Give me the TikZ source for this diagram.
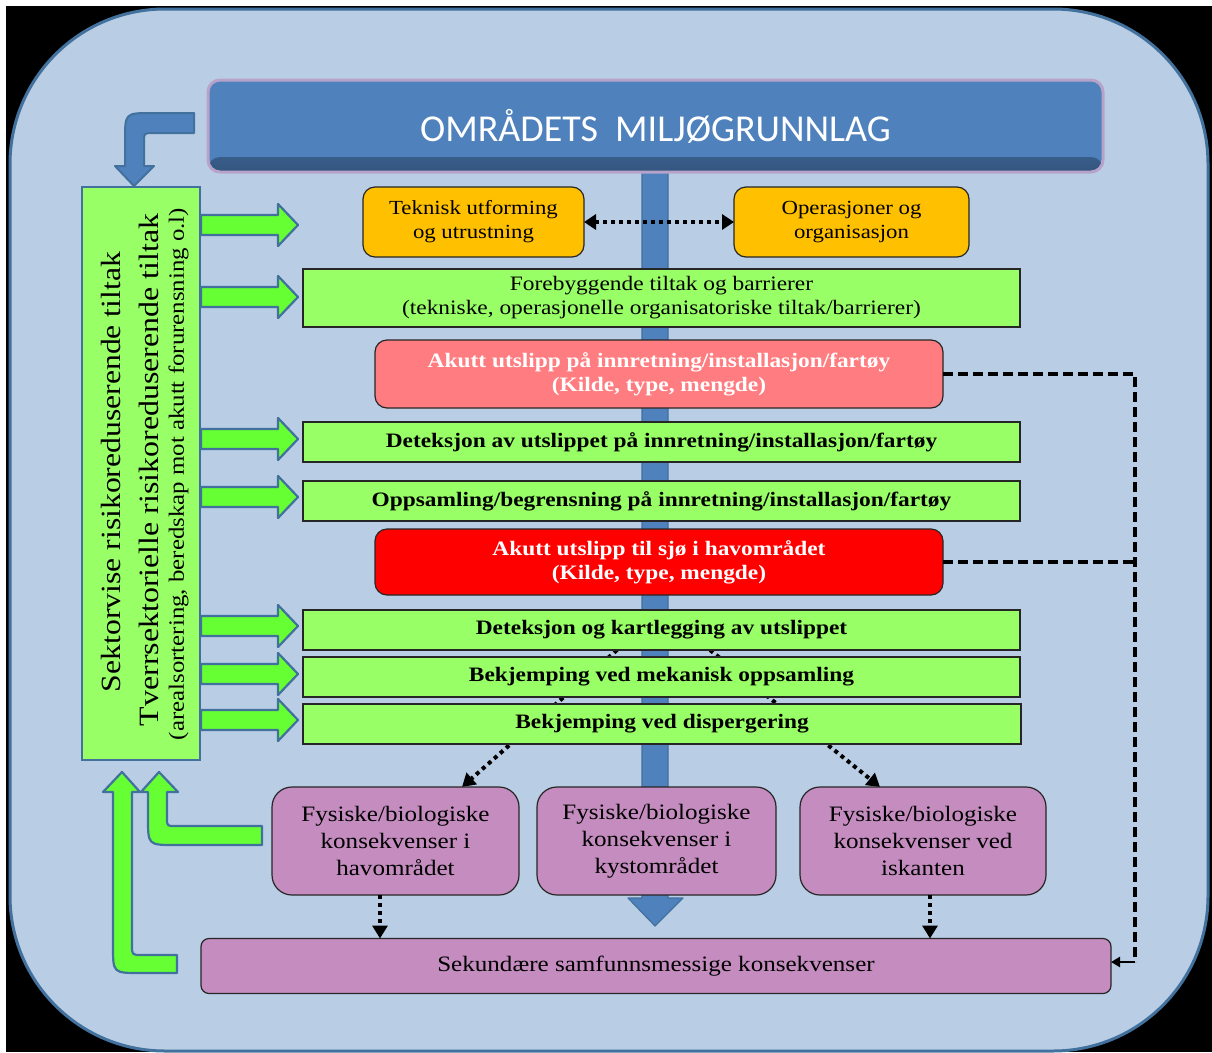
\documentclass[tikz,border=0pt]{standalone}
\usepackage{fontspec}
\setmainfont[FakeStretch=1.14]{Liberation Serif}
\newfontfamily\headfont{Carlito}
\usetikzlibrary{arrows.meta}

\definecolor{panelfill}{HTML}{B9CDE5}
\definecolor{panelline}{HTML}{41719C}
\definecolor{hblue}{HTML}{4F81BD}
\definecolor{hdark}{HTML}{34567F}
\definecolor{hrim}{HTML}{B7A3CA}
\definecolor{orangefill}{HTML}{FFC000}
\definecolor{lgreen}{HTML}{99FF66}
\definecolor{bgreen}{HTML}{66FF33}
\definecolor{pinkfill}{HTML}{FF7C80}
\definecolor{redfill}{HTML}{FF0000}
\definecolor{purplefill}{HTML}{C48CBF}
\definecolor{boxline}{HTML}{262626}

\pgfdeclarelayer{panel}
\pgfdeclarelayer{under}
\pgfsetlayers{panel,under,main}

\begin{document}
\begin{tikzpicture}[x=1pt,y=-1pt,
  basebox/.style={inner sep=0pt, outer sep=0pt, align=center, line width=1.2pt, draw=boxline},
  orangebox/.style={basebox, fill=orangefill, rounded corners=12pt,
    minimum height=70pt, font=\fontsize{20}{24}\selectfont},
  greenbox/.style={basebox, fill=lgreen, minimum width=717pt, minimum height=40pt,
    font=\fontsize{20.5}{25}\selectfont\bfseries},
  alarmbox/.style={basebox, rounded corners=12pt, minimum width=568pt,
    text=white, font=\fontsize{20.5}{24}\selectfont\bfseries},
  purplebox/.style={basebox, fill=purplefill, rounded corners=20pt,
    minimum height=108pt, font=\fontsize{22}{27}\selectfont},
  sidetext/.style={rotate=90, inner sep=0pt, outer sep=0pt},
  blockgreen/.style={fill=bgreen, draw=panelline, line width=2.2pt, line join=round},
  blockblue/.style={fill=hblue, draw=panelline, line width=2pt, line join=round},
  dotarrow/.style={line width=4pt, dash pattern=on 4pt off 4pt,
    -{Triangle[length=13pt,width=15pt]}},
  dashline/.style={line width=3.2pt, dash pattern=on 10pt off 5pt},
]
\useasboundingbox (0,0) rectangle (1212,1052);

% outer frame
\begin{pgfonlayer}{panel}
  \fill[white] (0,0) rectangle (1212,1052);
  \fill[black] (6,6) rectangle (1212,1052);
  \draw[fill=panelfill, draw=panelline, line width=3pt, rounded corners=155pt]
    (10,9) rectangle (1208,1051);
\end{pgfonlayer}

% central downward bar
\begin{pgfonlayer}{under}
  \draw[blockblue, line width=1.2pt]
    (642,172) -- (668,172) -- (668,898) -- (683,898) -- (655,926)
    -- (628,898) -- (642,898) -- cycle;
\end{pgfonlayer}

% header with a soft dark lower edge
\node[rounded corners=12pt, draw=hrim, line width=3pt, fill=hblue,
      minimum width=895pt, minimum height=92pt, inner sep=0pt, outer sep=0pt,
      text=white, font=\headfont\fontsize{38}{44}\selectfont,
      path picture={\shade[top color=hblue, bottom color=hdark]
        ([yshift=15pt]path picture bounding box.south west) rectangle
        (path picture bounding box.south east);}]
  (head) at (655.5,126) {OMRÅDETS\hspace{0.45em}MILJØGRUNNLAG};

% left measures box
\node[basebox, draw=panelline, line width=2pt, fill=lgreen,
      minimum width=118pt, minimum height=573pt] (lbox) at (141,473.5) {};
\node[sidetext, font=\fontsize{27.8}{30}\selectfont] (lt1) at (110.5,472)
  {Sektorvise risikoreduserende tiltak};
\node[sidetext, font=\fontsize{28}{30}\selectfont] (lt2) at (148.5,470)
  {Tverrsektorielle risikoreduserende tiltak};
\node[sidetext, font=\fontsize{21.8}{24}\selectfont] (lt3) at (178.5,474)
  {(arealsortering, beredskap mot akutt forurensning o.l)};

% main column
\node[orangebox, minimum width=221pt] (tek) at (473.5,222) {Teknisk utforming\\og utrustning};
\node[orangebox, minimum width=235pt] (ops) at (851.5,222) {Operasjoner og\\organisasjon};
\node[basebox, fill=lgreen, minimum width=717pt, minimum height=58pt,
      font=\fontsize{20.5}{24}\selectfont] (fore) at (661.5,298)
  {Forebyggende tiltak og barrierer\\(tekniske, operasjonelle organisatoriske tiltak/barrierer)};
\node[alarmbox, fill=pinkfill, minimum height=68pt] (akutt1) at (659,374)
  {Akutt utslipp på innretning/installasjon/fartøy\\(Kilde, type, mengde)};
\node[greenbox] (det1) at (661.5,442) {Deteksjon av utslippet på innretning/installasjon/fartøy};
\node[greenbox] (opps) at (661.5,501) {Oppsamling/begrensning på innretning/installasjon/fartøy};
\node[alarmbox, fill=redfill, minimum height=66pt] (akutt2) at (659,562)
  {Akutt utslipp til sjø i havområdet\\(Kilde, type, mengde)};
\node[greenbox] (det2) at (661.5,630) {Deteksjon og kartlegging av utslippet};
\node[greenbox] (mek) at (661.5,677) {Bekjemping ved mekanisk oppsamling};
\node[greenbox, minimum width=718pt] (disp) at (662,724) {Bekjemping ved dispergering};

% consequences
\node[purplebox, minimum width=247pt] (fys1) at (395.5,841) {Fysiske/biologiske\\konsekvenser i\\havområdet};
\node[purplebox, minimum width=239pt] (fys2) at (656.5,841) {Fysiske/biologiske\\konsekvenser i\\kystområdet};
\node[purplebox, minimum width=246pt] (fys3) at (923,841) {Fysiske/biologiske\\konsekvenser ved\\iskanten};
\node[basebox, fill=purplefill, rounded corners=8pt, minimum width=910pt, minimum height=55pt,
      font=\fontsize{22}{26}\selectfont] (sek) at (656,966) {Sekundære samfunnsmessige konsekvenser};

% dotted links
\draw[dotarrow, {Triangle[length=12pt,width=15pt]}-{Triangle[length=12pt,width=15pt]}]
  (tek.east) -- (ops.west);
\begin{pgfonlayer}{under}
  \draw[dotarrow] ([xshift=-44.5pt]det2.south) -- ([xshift=66.5pt]fys1.north);
  \draw[dotarrow] ([xshift=48.5pt]det2.south) -- ([xshift=-43pt]fys3.north);
\end{pgfonlayer}
\draw[dotarrow] ([xshift=-15.5pt]fys1.south) -- ([xshift=-15.5pt]fys1.south |- sek.north);
\draw[dotarrow] ([xshift=7pt]fys3.south) -- ([xshift=7pt]fys3.south |- sek.north);

% dashed link on the right
\coordinate (rtop) at (1135,374);
\coordinate (rbot) at (1135,962);
\draw[dashline] (akutt1.east) -- (rtop) -- (rbot);
\draw[dashline] (akutt2.east) -- (akutt2.east -| rtop);
\draw[line width=2.6pt, -{Triangle[length=9pt,width=10pt]}] (rbot) -- (sek.east |- rbot);

% block arrows from the measures box
\foreach \yy in {225,297,439,497,626,674,720}{
  \draw[blockgreen] (201,\yy-10) -- (278,\yy-10) -- (278,\yy-21) -- (298,\yy)
    -- (278,\yy+21) -- (278,\yy+10) -- (201,\yy+10) -- cycle;
}

% curved arrow from the header into the measures box
\draw[blockblue]
  (194,113) -- (152,113) .. controls (125,113) .. (125,140) -- (125,166)
  -- (115,166) -- (134,186) -- (154,166) -- (144,166) -- (144,142)
  .. controls (144,133) .. (153,133) -- (194,133) -- cycle;

% feedback arrows back into the measures box
\draw[blockgreen]
  (122,772) -- (140,792) -- (132,792) -- (132,945) .. controls (132,955) .. (142,955)
  -- (177,955) -- (177,973) -- (140,973) .. controls (113,973) .. (113,946)
  -- (113,792) -- (103,792) -- cycle;
\draw[blockgreen]
  (159,772) -- (178,792) -- (167,792) -- (167,818) .. controls (167,826) .. (175,826)
  -- (262,826) -- (262,845) -- (175,845) .. controls (148,845) .. (148,818)
  -- (148,792) -- (141,792) -- cycle;

\end{tikzpicture}
\end{document}
